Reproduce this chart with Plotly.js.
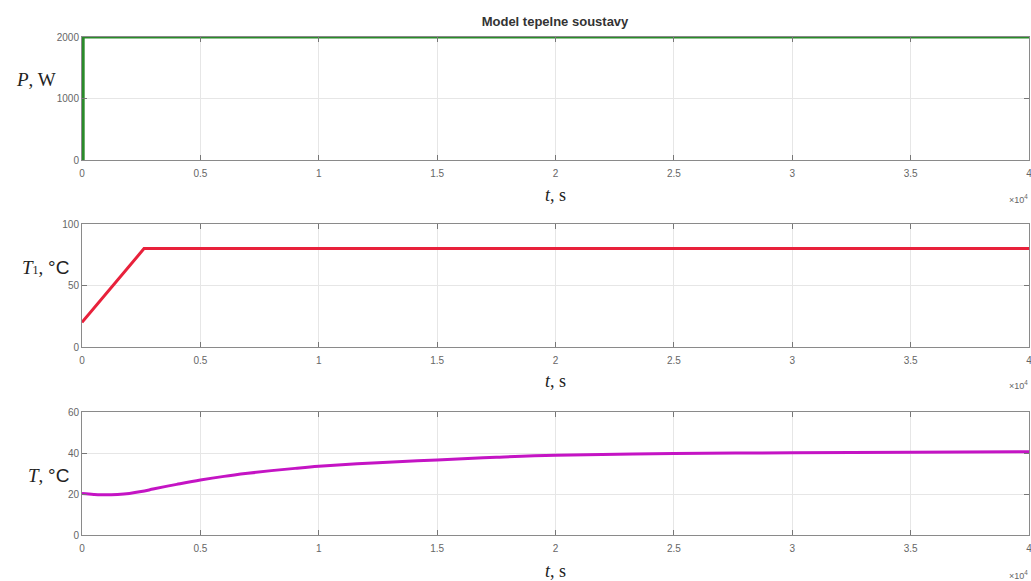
<!DOCTYPE html>
<html>
<head>
<meta charset="utf-8">
<script src="https://cdn.plot.ly/plotly-3.0.1.min.js"></script>
<style>html,body{margin:0;padding:0;background:#fff;}#chart{width:1031px;height:581px;}</style>
</head>
<body>
<div id="chart"></div>
<script>
// time in units of 10^4 s
const tP = [0, 0.005, 0.005, 4];
const powerW = [0, 0, 2000, 2000];

const tT1 = [0, 0.262, 4];
const tempT1 = [20, 80, 80];

const tT = [0, 0.05, 0.1, 0.15, 0.2, 0.25, 0.3, 0.35, 0.4, 0.5, 0.6, 0.7, 0.8, 0.9, 1.0, 1.25, 1.5, 1.75, 2.0, 2.5, 3.0, 3.5, 4.0];
const tempT = [20.2, 19.8, 19.6, 19.8, 20.3, 21.2, 22.4, 23.6, 24.7, 26.8, 28.6, 30.1, 31.4, 32.5, 33.5, 35.3, 36.6, 37.9, 38.9, 39.7, 40.1, 40.4, 40.6];

const xTicks = [0, 0.5, 1, 1.5, 2, 2.5, 3, 3.5, 4];
const xTickText = ['0', '0.5', '1', '1.5', '2', '2.5', '3', '3.5', '4'];

const traces = [
  {x: tP, y: powerW, xaxis: 'x', yaxis: 'y', mode: 'lines', line: {color: '#2a8a2a', width: 3}},
  {x: tT1, y: tempT1, xaxis: 'x2', yaxis: 'y2', mode: 'lines', line: {color: '#e8213b', width: 3}},
  {x: tT, y: tempT, xaxis: 'x3', yaxis: 'y3', mode: 'lines', line: {color: '#c414c4', width: 3, shape: 'spline', smoothing: 1}}
];

const tickFont = {family: 'Arial, Liberation Sans, sans-serif', size: 10, color: '#666'};

function xax(anchor) {
  return {
    domain: [0, 1], range: [0, 4], anchor: anchor,
    tickvals: xTicks, ticktext: xTickText,
    ticks: 'inside', ticklen: 5, tickcolor: '#777',
    showline: true, linecolor: '#8a8a8a', linewidth: 1, mirror: 'ticks',
    showgrid: true, gridcolor: '#e6e6e6', zeroline: false,
    ticklabeloverflow: 'allow', ticklabelstandoff: 4,
    tickfont: tickFont
  };
}
function yax(anchor, dom, range, dtick) {
  return {
    domain: dom, range: range, anchor: anchor, dtick: dtick,
    ticks: 'inside', ticklen: 5, tickcolor: '#777',
    showline: true, linecolor: '#8a8a8a', linewidth: 1, mirror: 'ticks',
    showgrid: true, gridcolor: '#e6e6e6', zeroline: false,
    ticklabeloverflow: 'allow',
    tickfont: tickFont
  };
}

const serif = 'Liberation Serif, Times New Roman, serif';
function py(p) { return (571 - p) / 561; }
function px(p) { return (p - 82) / 947; }

const ann = [];
const xTitleY = [195, 381, 571];
xTitleY.forEach(v => ann.push({
  text: '<i>t</i>, s', xref: 'paper', yref: 'paper', x: px(555), y: py(v),
  xanchor: 'center', yanchor: 'middle', showarrow: false,
  font: {family: serif, size: 18, color: '#222'}
}));
const expY = [199, 385, 575];
expY.forEach(v => ann.push({
  text: '×10<sup>4</sup>', xref: 'paper', yref: 'paper', x: px(1030), y: py(v),
  xanchor: 'right', yanchor: 'middle', showarrow: false,
  font: {family: 'Arial, sans-serif', size: 9, color: '#666'}
}));
ann.push({text: '<i>P</i>, W', xref: 'paper', yref: 'paper', x: px(36), y: py(79),
  xanchor: 'center', yanchor: 'middle', showarrow: false, font: {family: serif, size: 19, color: '#222'}});
ann.push({text: '<i>T</i><span style="font-size:12px">1</span>, <span style="font-family:Arial">°C</span>', xref: 'paper', yref: 'paper', x: px(45), y: py(267),
  xanchor: 'center', yanchor: 'middle', showarrow: false, font: {family: serif, size: 19, color: '#222'}});
ann.push({text: '<i>T</i>, <span style="font-family:Arial">°C</span>', xref: 'paper', yref: 'paper', x: px(48), y: py(475),
  xanchor: 'center', yanchor: 'middle', showarrow: false, font: {family: serif, size: 19, color: '#222'}});

const layout = {
  width: 1031, height: 581,
  margin: {l: 82, r: 2, t: 10, b: 10},
  paper_bgcolor: '#fff', plot_bgcolor: '#fff',
  showlegend: false,
  title: {text: '<b>Model tepelne soustavy</b>', x: 555 / 1031, xanchor: 'center', y: 1 - 21 / 581, yanchor: 'middle',
    font: {family: 'Arial, Liberation Sans, sans-serif', size: 13, color: '#333'}},
  xaxis: xax('y'), yaxis: yax('x', [py(160), py(37)], [0, 2000], 1000),
  xaxis2: xax('y2'), yaxis2: yax('x2', [py(347), py(224)], [0, 100], 50),
  xaxis3: xax('y3'), yaxis3: yax('x3', [py(535), py(412)], [0, 60], 20),
  annotations: ann
};

Plotly.newPlot('chart', traces, layout, {displayModeBar: false, staticPlot: true});
</script>
</body>
</html>
